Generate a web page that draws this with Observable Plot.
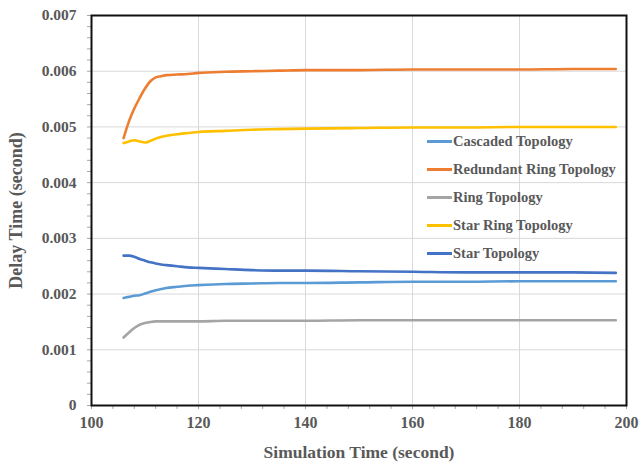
<!DOCTYPE html>
<html>
<head>
<meta charset="utf-8">
<script src="https://cdn.jsdelivr.net/npm/d3@7"></script>
<script src="https://cdn.jsdelivr.net/npm/@observablehq/plot@0.6"></script>
<style>
  html, body { margin: 0; padding: 0; background: #fff; }
  #chart { position: relative; width: 641px; height: 465px; }
  #legend {
    position: absolute; left: 427px; top: 127px;
    font-family: "Liberation Serif", "Times New Roman", serif;
    font-weight: bold; font-size: 14.5px; color: #595959;
  }
  #legend .row { display: flex; align-items: center; height: 28px; }
  #legend .swatch { width: 25px; height: 3px; margin-right: 1px; }
</style>
</head>
<body>
<div id="chart"><div id="legend"></div></div>
<script>
// Simulation time (s) at which delay was sampled
const simTime = [106, 107, 108, 109, 110, 111, 112, 113, 114, 116, 118, 120, 125, 130, 135, 140, 150, 160, 170, 180, 190, 198];

// Delay time (s) per topology
const cascaded = [0.00193, 0.00195, 0.00197, 0.00198, 0.00201, 0.00204, 0.00207, 0.00209, 0.00211, 0.00213, 0.00215, 0.00216, 0.00218, 0.00219, 0.00220, 0.00220, 0.00221, 0.00222, 0.00222, 0.00223, 0.00223, 0.00223];
const redundantRing = [0.00480, 0.00510, 0.00533, 0.00552, 0.00569, 0.00582, 0.00589, 0.00591, 0.00593, 0.00594, 0.00595, 0.00597, 0.00599, 0.00600, 0.00601, 0.00602, 0.00602, 0.00603, 0.00603, 0.00603, 0.00604, 0.00604];
const ring = [0.00122, 0.00131, 0.00139, 0.00145, 0.00148, 0.00150, 0.00151, 0.00151, 0.00151, 0.00151, 0.00151, 0.00151, 0.00152, 0.00152, 0.00152, 0.00152, 0.00153, 0.00153, 0.00153, 0.00153, 0.00153, 0.00153];
const starRing = [0.00471, 0.00474, 0.00476, 0.00474, 0.00472, 0.00475, 0.00479, 0.00482, 0.00484, 0.00487, 0.00489, 0.00491, 0.00493, 0.00495, 0.00496, 0.00497, 0.00498, 0.00499, 0.00499, 0.00500, 0.00500, 0.00500];
const star = [0.00269, 0.00269, 0.00267, 0.00263, 0.00260, 0.00257, 0.00255, 0.00253, 0.00252, 0.00250, 0.00248, 0.00247, 0.00245, 0.00243, 0.00242, 0.00242, 0.00241, 0.00240, 0.00239, 0.00239, 0.00239, 0.00238];

const seriesNames = ["Cascaded Topology", "Redundant Ring Topology", "Ring Topology", "Star Ring Topology", "Star Topology"];
const seriesValues = [cascaded, redundantRing, ring, starRing, star];
const seriesColors = ["#5B9BD5", "#ED7D31", "#A5A5A5", "#FFC000", "#4472C4"];

// Axis ticks
const xTicks = [100, 120, 140, 160, 180, 200];
const xMinor = d3.range(0, 26).map(i => 100 + i * 4);
const yTicks = [0, 0.001, 0.002, 0.003, 0.004, 0.005, 0.006, 0.007];
const yMinor = d3.range(0, 36).map(i => i / 5000);

const rows = seriesNames.flatMap((name, s) =>
  simTime.map((t, i) => ({series: name, time: t, delay: seriesValues[s][i]}))
);

const textColor = "#595959";
const serif = "'Liberation Serif', 'Times New Roman', serif";

const chart = Plot.plot({
  width: 641,
  height: 465,
  marginLeft: 91,
  marginRight: 15,
  marginTop: 15,
  marginBottom: 60,
  style: {fontFamily: serif, fontWeight: "bold", color: textColor, background: "#fff"},
  x: {domain: [100, 200], label: null},
  y: {domain: [0, 0.007], label: null},
  color: {domain: seriesNames, range: seriesColors},
  marks: [
    Plot.gridY(yTicks.slice(1, -1), {stroke: "#d9d9d9", strokeOpacity: 1, strokeWidth: 1}),
    Plot.gridX(xTicks.slice(1, -1), {stroke: "#d9d9d9", strokeOpacity: 1, strokeWidth: 1}),
    Plot.axisY(yMinor, {tickSize: 4, text: null, stroke: "#a6a6a6", strokeWidth: 1, label: null}),
    Plot.axisY(yTicks, {
      tickSize: 0, tickPadding: 15, fontSize: 15.5, fill: textColor, fontFamily: serif,
      tickFormat: d => String(d), label: null
    }),
    Plot.axisY([], {
      fontSize: 18, fill: textColor, fontFamily: serif, tickSize: 0,
      label: "Delay Time (second)", labelAnchor: "center", labelArrow: "none", labelOffset: 82
    }),
    Plot.axisX(xMinor, {tickSize: 4, text: null, stroke: "#a6a6a6", strokeWidth: 1, label: null}),
    Plot.axisX(xTicks, {
      tickSize: 0, tickPadding: 11, fontSize: 16, fill: textColor, fontFamily: serif,
      tickFormat: d => String(d), label: null
    }),
    Plot.axisX([], {
      fontSize: 17.5, fill: textColor, fontFamily: serif, tickSize: 0,
      label: "Simulation Time (second)", labelAnchor: "center", labelArrow: "none", labelOffset: 52
    }),
    Plot.line(rows, {x: "time", y: "delay", z: "series", stroke: "series", strokeWidth: 2.6, curve: "monotone-x"}),
    Plot.frame({stroke: "#111", strokeWidth: 2})
  ]
});

const holder = document.getElementById("chart");
holder.insertBefore(chart, holder.firstChild);

// Legend drawn inside the plot area
const legend = d3.select("#legend");
seriesNames.forEach((name, i) => {
  const row = legend.append("div").attr("class", "row");
  row.append("div").attr("class", "swatch").style("background", seriesColors[i]);
  row.append("span").text(name);
});
</script>
</body>
</html>
